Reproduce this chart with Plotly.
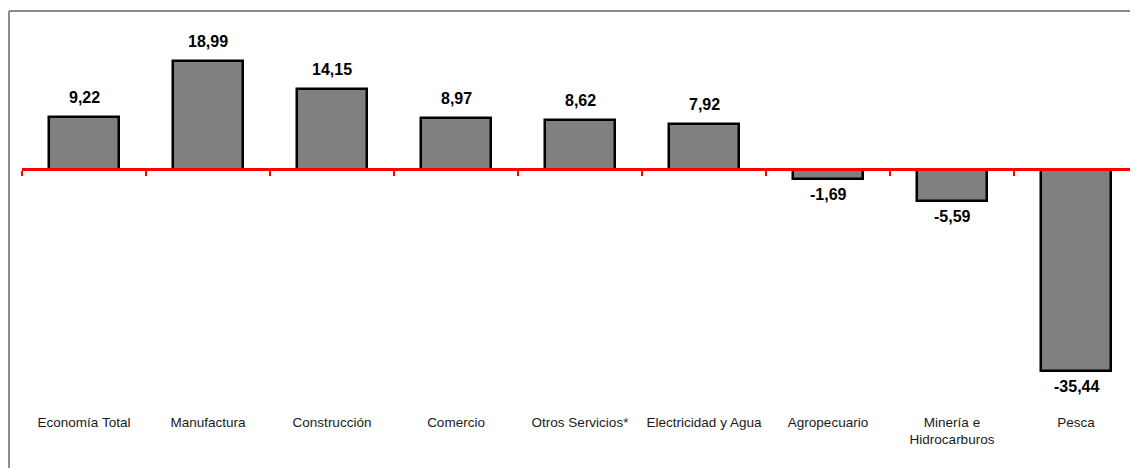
import plotly.graph_objects as go

categories = ["Economía Total", "Manufactura", "Construcción", "Comercio",
              "Otros Servicios*", "Electricidad y Agua", "Agropecuario",
              "Minería e<br>Hidrocarburos", "Pesca"]
values = [9.22, 18.99, 14.15, 8.97, 8.62, 7.92, -1.69, -5.59, -35.44]
value_labels = ["9,22", "18,99", "14,15", "8,97", "8,62", "7,92", "-1,69", "-5,59", "-35,44"]

W, H = 1138, 468
ML, MR, MT, MB = 14, 8, 12, 96
y_min, y_max = -36.99, 26.27

FONT = "Liberation Sans, Arial, sans-serif"

fig = go.Figure()
fig.add_trace(go.Bar(
    x=list(range(len(categories))), y=values,
    width=0.56,
    marker=dict(color="#808080", line=dict(color="black", width=2.5)),
    hoverinfo="skip",
))
# invisible trace so the secondary axis (red zero line) is rendered
fig.add_trace(go.Scatter(x=[-0.5, len(categories) - 0.5], y=[0, 0], xaxis="x2",
                         mode="lines", line=dict(width=0), hoverinfo="skip", showlegend=False))

for i, (v, t) in enumerate(zip(values, value_labels)):
    fig.add_annotation(
        x=i, y=v, text="<b>%s</b>" % t, showarrow=False,
        yanchor="bottom" if v >= 0 else "top",
        yshift=9 if v >= 0 else -5,
        font=dict(family=FONT, size=16, color="black"),
    )

zero_pos = (0 - y_min) / (y_max - y_min)
pw = W - ML - MR
ph = H - MT - MB

fig.update_layout(
    width=W, height=H,
    margin=dict(l=ML, r=MR, t=MT, b=MB),
    paper_bgcolor="white", plot_bgcolor="white",
    showlegend=False,
    bargap=0,
    xaxis=dict(
        range=[-0.5, len(categories) - 0.5],
        tickmode="array", tickvals=list(range(len(categories))), ticktext=categories,
        showline=False, showgrid=False, zeroline=False, ticks="",
        ticklabelstandoff=32,
        tickfont=dict(family=FONT, size=13.5, color="#1a1a1a"),
    ),
    xaxis2=dict(
        overlaying="x", anchor="free", position=zero_pos, side="bottom",
        range=[-0.5, len(categories) - 0.5],
        tickmode="array", tickvals=[i - 0.5 for i in range(len(categories) + 1)],
        showticklabels=False, ticks="outside", ticklen=5, tickwidth=2, tickcolor="#ff0000",
        showline=True, linecolor="#ff0000", linewidth=2.5, showgrid=False, zeroline=False,
    ),
    yaxis=dict(range=[y_min, y_max], showgrid=False, zeroline=False,
               showticklabels=False, showline=False, ticks=""),
    shapes=[
        dict(type="line", xref="paper", yref="paper", x0=-13 / pw, x1=1 + MR / pw,
             y0=1 + 9 / ph, y1=1 + 9 / ph,
             line=dict(color="#8c8c8c", width=2)),
        dict(type="line", xref="paper", yref="paper", x0=-13 / pw, x1=-13 / pw,
             y0=1 + 9 / ph, y1=-MB / ph,
             line=dict(color="#8c8c8c", width=2)),
    ],
)

fig.write_html("out.html")
